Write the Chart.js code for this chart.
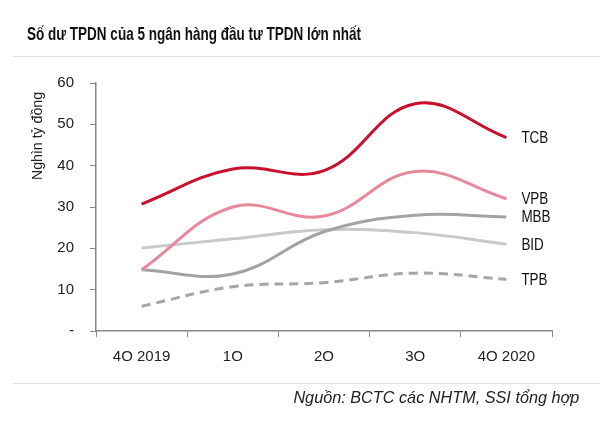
<!DOCTYPE html>
<html><head><meta charset="utf-8">
<script src="https://cdn.jsdelivr.net/npm/chart.js@4/dist/chart.umd.min.js"></script>
<style>
html,body{margin:0;padding:0;background:#fff;}
#wrap{position:relative;width:600px;height:421px;overflow:hidden;font-family:'Liberation Sans',Arial,sans-serif;}
#title{position:absolute;left:27px;top:23px;font-size:19px;font-weight:bold;color:#111;white-space:nowrap;transform-origin:0 0;}
.sep{position:absolute;left:13px;right:0;height:1px;background:#ddd;}
#source{position:absolute;right:21px;top:388px;font-size:17px;font-style:italic;color:#222;white-space:nowrap;transform-origin:100% 0;}
canvas{position:absolute;left:0;top:0;}
</style></head><body>
<div id="wrap">
<canvas id="c" width="600" height="421"></canvas>
<div id="title">Số dư TPDN của 5 ngân hàng đầu tư TPDN lớn nhất</div>
<div class="sep" style="top:56px"></div>
<div class="sep" style="top:383px"></div>
<div id="source">Nguồn: BCTC các NHTM, SSI tổng hợp</div>
</div>
<script>
const categories = ['4Q 2019','1Q','2Q','3Q','4Q 2020'];
const TCB = [30.7, 39.2, 38.8, 55.0, 46.8];
const VPB = [14.8, 30.0, 27.8, 38.6, 32.0];
const MBB = [14.8, 13.8, 24.0, 28.0, 27.6];
const BID = [20.1, 22.3, 24.5, 23.8, 21.0];
const TPB = [6.0, 10.7, 11.7, 14.0, 12.5];
const yTicks = [0,10,20,30,40,50,60];

const FONT = "'Liberation Sans',Arial,sans-serif";

function fitWidth(el, w){
  const cur = el.getBoundingClientRect().width;
  el.style.transform = 'scaleX(' + (w/cur) + ')';
}
fitWidth(document.getElementById('title'), 334);
fitWidth(document.getElementById('source'), 286);

function condensedText(ctx, text, x, y, sx){
  ctx.save();
  ctx.translate(x, y);
  ctx.scale(sx, 1);
  ctx.fillText(text, 0, 0);
  ctx.restore();
}

const endLabels = {
  id:'endLabels',
  afterDatasetsDraw(chart){
    const ctx = chart.ctx;
    ctx.save();
    ctx.font = '16px ' + FONT;
    ctx.fillStyle = '#111';
    ctx.textBaseline = 'middle';
    ctx.textAlign = 'left';
    chart.data.datasets.forEach((ds,i)=>{
      const meta = chart.getDatasetMeta(i);
      const p = meta.data[meta.data.length-1];
      condensedText(ctx, ds.label, p.x + 15, p.y + 1, 0.84);
    });
    ctx.restore();
  }
};
const yTitle = {
  id:'yTitle',
  afterDraw(chart){
    const ctx = chart.ctx;
    ctx.save();
    ctx.font = '15px ' + FONT;
    ctx.fillStyle = '#222';
    const w = ctx.measureText('Nghìn tỷ đồng').width;
    ctx.translate(38, chart.chartArea.top + 9);
    ctx.rotate(-Math.PI/2);
    ctx.scale(88/w, 1);
    ctx.textAlign = 'right';
    ctx.textBaseline = 'middle';
    ctx.fillText('Nghìn tỷ đồng', 0, 0);
    ctx.restore();
  }
};

const mk = (label, data, color, extra) => Object.assign({
  label, data, borderColor: color, backgroundColor: color,
  borderWidth: 3, pointRadius: 0, tension: 0.4, fill: false
}, extra||{});

new Chart(document.getElementById('c'), {
  type: 'line',
  data: {
    labels: categories,
    datasets: [
      mk('TCB', TCB, '#c8102e'),
      mk('VPB', VPB, '#e68a9a'),
      mk('MBB', MBB, '#a3a3a3'),
      mk('BID', BID, '#c9c9c9'),
      mk('TPB', TPB, '#a6a6a6', {borderDash:[9,6]})
    ]
  },
  options: {
    responsive: false,
    animation: false,
    devicePixelRatio: 1,
    layout: { padding: { left: 0, right: 48, top: 83, bottom: 60 } },
    plugins: { legend: { display: false }, tooltip: { enabled: false } },
    scales: {
      x: {
        offset: true,
        grid: { offset: true, drawOnChartArea: false, drawTicks: true, tickLength: 6, color: '#888' },
        border: { color: '#888', width: 1.5 },
        ticks: { color: '#222', font: { family: FONT, size: 15 }, padding: 11, maxRotation: 0 },
        afterFit(s){ s.height = 30; }
      },
      y: {
        min: 0, max: 60,
        afterBuildTicks(s){ s.ticks = yTicks.map(v=>({value:v})); },
        grid: { drawOnChartArea: false, drawTicks: true, tickLength: 6, color: '#888' },
        border: { color: '#888', width: 1.5 },
        ticks: { color: '#222', font: { family: FONT, size: 15 }, padding: 16,
                 callback: v => v === 0 ? '-' : String(v) },
        afterFit(s){ s.width = 96; }
      }
    }
  },
  plugins: [endLabels, yTitle]
});
</script>
</body></html>
